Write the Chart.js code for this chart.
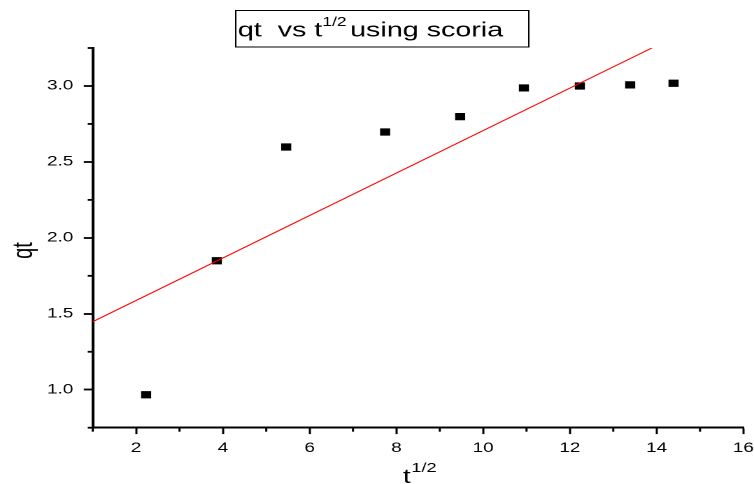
<!DOCTYPE html>
<html>
<head>
<meta charset="utf-8">
<script src="https://cdn.jsdelivr.net/npm/chart.js@4.4.1/dist/chart.umd.min.js"></script>
<style>
  html, body { margin: 0; padding: 0; background: #fff; overflow: hidden; }
  /* the reference is a horizontally stretched export, so draw narrow and stretch */
  #wrap { width: 539px; height: 484px; transform: scaleX(1.3989); transform-origin: 0 0; }
</style>
</head>
<body>
<div id="wrap"><canvas id="chart"></canvas></div>
<script>
// measured points
const sqrtT = [2.23, 3.86, 5.46, 7.74, 9.47, 10.94, 12.23, 13.39, 14.39]
const qt = [0.967, 1.849, 2.598, 2.697, 2.798, 2.987, 3.0, 3.007, 3.018]

// fitted line
const fitX = [1, 13.89]
const fitY = [1.448, 3.25]

const xTicks = [2, 4, 6, 8, 10, 12, 14, 16]
const xMinor = [1, 3, 5, 7, 9, 11, 13, 15]
const yTicks = [1.0, 1.5, 2.0, 2.5, 3.0]
const yMinor = [0.75, 1.25, 1.75, 2.25, 2.75, 3.25]

const FONT = '"Liberation Sans", Arial, sans-serif'

// minor ticks, titles
const decorations = {
  id: 'decorations',
  afterDraw(chart) {
    const ctx = chart.ctx
    const xs = chart.scales.x
    const ys = chart.scales.y
    ctx.save()
    ctx.strokeStyle = '#000'
    ctx.lineWidth = 1.5
    xMinor.forEach((v) => {
      const px = xs.getPixelForValue(v)
      ctx.beginPath()
      ctx.moveTo(px, xs.top)
      ctx.lineTo(px, xs.top + 4)
      ctx.stroke()
    })
    ctx.lineWidth = 1.8
    yMinor.forEach((v) => {
      const py = ys.getPixelForValue(v)
      ctx.beginPath()
      ctx.moveTo(ys.right, py)
      ctx.lineTo(ys.right - 3.6, py)
      ctx.stroke()
    })

    // title box
    ctx.fillStyle = '#fff'
    ctx.fillRect(168, 10, 210, 37)
    ctx.lineWidth = 1
    ctx.strokeRect(168.5, 10.5, 209.5, 36.5)

    ctx.fillStyle = '#000'
    ctx.textBaseline = 'alphabetic'
    ctx.textAlign = 'left'
    let x = 170
    ctx.font = '20.5px ' + FONT
    ctx.fillText('qt  vs t', x, 36.5)
    x += ctx.measureText('qt  vs t').width
    ctx.font = '12.5px ' + FONT
    ctx.fillText('1/2', x, 26)
    x += ctx.measureText('1/2').width + 2.5
    ctx.font = '20.5px ' + FONT
    ctx.fillText('using scoria', x, 36.5)

    // x axis title
    x = 288
    ctx.font = '20px ' + FONT
    ctx.fillText('t', x, 483)
    x += ctx.measureText('t').width + 0.5
    ctx.font = '13px ' + FONT
    ctx.fillText('1/2', x, 472)

    // y axis title
    ctx.translate(23, 250.5)
    ctx.rotate(-Math.PI / 2)
    ctx.textAlign = 'center'
    ctx.font = '20px ' + FONT
    ctx.fillText('qt', 0, 0)
    ctx.restore()
  },
}

Chart.register(decorations)

const chart = new Chart(document.getElementById('chart'), {
  type: 'scatter',
  data: {
    datasets: [
      {
        label: 'fit',
        data: fitX.map((v, i) => ({ x: v, y: fitY[i] })),
        showLine: true,
        borderColor: 'rgb(255, 0, 0)',
        borderWidth: 1,
        pointRadius: 0,
      },
      {
        label: 'qt',
        data: sqrtT.map((v, i) => ({ x: v, y: qt[i] })),
        pointStyle: 'rect',
        pointRadius: 5.1,
        pointBackgroundColor: '#000',
        pointBorderWidth: 0,
      },
    ],
  },
  options: {
    responsive: true,
    maintainAspectRatio: false,
    animation: false,
    devicePixelRatio: 2,
    layout: { padding: { left: 0, right: 7.6, top: 48, bottom: 0 } },
    plugins: {
      legend: { display: false },
      tooltip: { enabled: false },
      title: { display: false },
    },
    scales: {
      x: {
        type: 'linear',
        min: 1,
        max: 16,
        afterBuildTicks: (scale) => {
          scale.ticks = xTicks.map((v) => ({ value: v }))
        },
        afterFit: (scale) => {
          scale.height = 56.3
          scale.paddingRight = 0
          scale.paddingLeft = 0
        },
        border: { display: true, color: '#000', width: 2 },
        grid: {
          drawOnChartArea: false,
          drawTicks: true,
          tickLength: 6.4,
          tickWidth: 1.5,
          tickColor: '#000',
        },
        ticks: {
          color: '#000',
          padding: 6,
          maxRotation: 0,
          font: { family: FONT, size: 13.5 },
        },
      },
      y: {
        type: 'linear',
        min: 0.75,
        max: 3.25,
        afterBuildTicks: (scale) => {
          scale.ticks = yTicks.map((v) => ({ value: v }))
        },
        afterFit: (scale) => {
          scale.width = 66.3
          scale.paddingTop = 0
          scale.paddingBottom = 0
        },
        border: { display: true, color: '#000', width: 2 },
        grid: {
          drawOnChartArea: false,
          drawTicks: true,
          tickLength: 6.4,
          tickWidth: 1.8,
          tickColor: '#000',
        },
        ticks: {
          color: '#000',
          padding: 7.5,
          font: { family: FONT, size: 13.5 },
          callback: (v) => Number(v).toFixed(1),
        },
      },
    },
  },
})
</script>
</body>
</html>
